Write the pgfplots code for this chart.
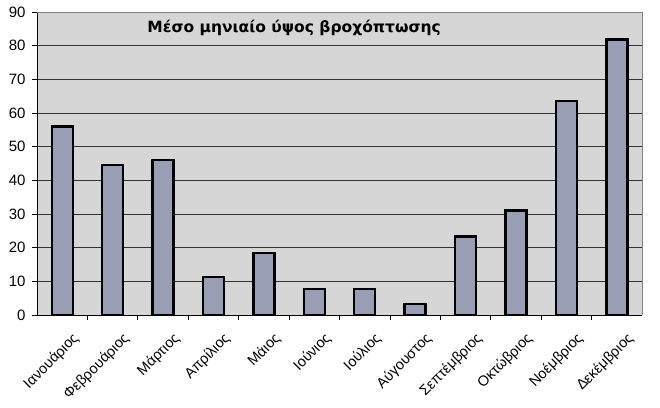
\documentclass[border=0pt]{standalone}
\usepackage{pgfplots}
\pgfplotsset{compat=1.18}
\usepackage{fontspec}
\setmainfont{Liberation Sans}
\newfontfamily\titlefont{DejaVu Sans}
\definecolor{bgc}{HTML}{D6D6D6}
\definecolor{barc}{HTML}{9A9EB5}
\definecolor{gridc}{HTML}{333333}
\begin{document}
\begin{tikzpicture}[x=1pt,y=1pt]
\path[use as bounding box] (0,0) rectangle (660,407);
\begin{axis}[
  at={(37pt,92pt)}, anchor=south west,
  scale only axis, width=605pt, height=303pt,
  xmin=-0.5, xmax=11.5, ymin=0, ymax=90,
  ytick={0,10,...,90},
  xtick={0.5,1.5,...,10.5},
  xticklabels={},
  extra x ticks={0,...,11},
  extra x tick labels={Ιανουάριος,Φεβρουάριος,Μάρτιος,Απρίλιος,Μάιος,Ιούνιος,Ιούλιος,Αύγουστος,Σεπτέμβριος,Οκτώβριος,Νοέμβριος,Δεκέμβριος},
  extra x tick style={major tick length=0pt, grid=none,
    tick label style={rotate=45, anchor=north east, font=\fontsize{14.5}{14.5}\selectfont, inner sep=0pt, yshift=-18pt, xshift=-5pt}},
  y tick label style={font=\fontsize{15}{15}\selectfont, xshift=-3pt},
  /pgf/number format/assume math mode=true,
  tick style={draw=black, thick},
  tick align=outside,
  major tick length=5pt,
  ymajorgrids,
  grid style={gridc, line width=1pt},
  axis background/.style={fill=bgc},
  axis x line*=bottom,
  axis y line*=left,
  x axis line style={black, line width=1pt},
  y axis line style={black, line width=0.8pt},
  ybar, bar width=21pt,
  clip=false,
]
\addplot[fill=barc, draw=black, line width=2.4pt] coordinates {
(0,56) (1,44.5) (2,46) (3,11.3) (4,18.4) (5,7.8) (6,7.8) (7,3.3) (8,23.3) (9,31) (10,63.5) (11,81.8)};
\draw[gray, line width=0.8pt] (rel axis cs:0,1) -- (rel axis cs:1,1) -- (rel axis cs:1,0);
\node[font=\titlefont\bfseries\fontsize{15.5}{15.5}\selectfont] at (rel axis cs:0.425,0.947) {Μέσο μηνιαίο ύψος βροχόπτωσης};
\end{axis}
\end{tikzpicture}
\end{document}
